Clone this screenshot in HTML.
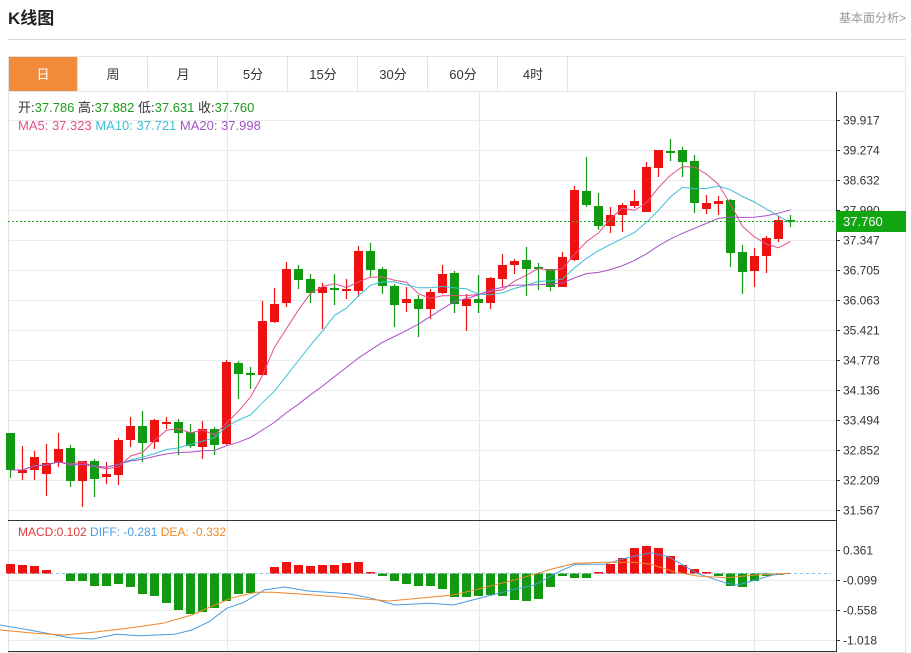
<!DOCTYPE html>
<html><head><meta charset="utf-8"><style>
html,body{margin:0;padding:0;background:#fff;width:911px;height:653px;overflow:hidden;font-family:"Liberation Sans","Noto Sans CJK SC",sans-serif;}
</style></head><body>
<svg id="s" width="911" height="653" xmlns="http://www.w3.org/2000/svg" style="position:absolute;left:0;top:0;font-family:'Liberation Sans','Noto Sans CJK SC',sans-serif">
<text x="8" y="24" font-size="17" font-weight="bold" fill="#222">K线图</text>
<text x="906" y="22" font-size="12" fill="#999" text-anchor="end">基本面分析&gt;</text>
<line x1="8" y1="39.5" x2="906" y2="39.5" stroke="#d8d8d8"/>
<rect x="8.5" y="56.5" width="897" height="596" fill="none" stroke="#e3e3e3"/>
<rect x="9" y="57" width="68" height="34" fill="#f28b3c"/>
<line x1="8" y1="91.5" x2="906" y2="91.5" stroke="#e3e3e3"/>
<g id="tabs" font-size="13" text-anchor="middle" fill="#333"></g>
<g id="grid"></g>
<g id="main"></g>
</svg>
<script>
const S=document.getElementById('s');const NS='http://www.w3.org/2000/svg';
function el(t,a,p,txt){const e=document.createElementNS(NS,t);for(const k in a)e.setAttribute(k,a[k]);if(txt!==undefined)e.textContent=txt;(p||S).appendChild(e);return e;}
const tabs=['日','周','月','5分','15分','30分','60分','4时'];
const tg=document.getElementById('tabs');
tabs.forEach((t,i)=>{const x=8+70*i;el('text',{x:x+35,y:79,fill:i==0?'#fff':'#333'},tg,t);el('line',{x1:x+69.5,y1:56,x2:x+69.5,y2:91,stroke:'#e3e3e3'},tg);});
const g=document.getElementById('grid');
// horizontal grid main
const labs=['39.917','39.274','38.632','37.990','37.347','36.705','36.063','35.421','34.778','34.136','33.494','32.852','32.209','31.567'];
labs.forEach((l,i)=>{const y=120+30*i+0.5;el('line',{x1:8,y1:y,x2:836,y2:y,stroke:'#ebebeb'},g);el('line',{x1:836,y1:y,x2:840,y2:y,stroke:'#333'},g);el('text',{x:843,y:y+4,'font-size':12,fill:'#333'},g,l);});
[227.5,479.5,754.5].forEach(x=>el('line',{x1:x,y1:92,x2:x,y2:652,stroke:'#e6e6e6'},g));
const ml=['0.361','-0.099','-0.558','-1.018'];
ml.forEach((l,i)=>{const y=550+30*i+0.5;el('line',{x1:8,y1:y,x2:836,y2:y,stroke:'#ebebeb'},g);el('line',{x1:836,y1:y,x2:840,y2:y,stroke:'#333'},g);el('text',{x:843,y:y+4,'font-size':12,fill:'#333'},g,l);});
el('line',{x1:836.5,y1:92,x2:836.5,y2:652,stroke:'#333'},g);
el('line',{x1:8,y1:520.5,x2:836,y2:520.5,stroke:'#333'},g);
el('line',{x1:8,y1:651.5,x2:836,y2:651.5,stroke:'#333'},g);
const m=document.getElementById('main');
// candles: [openY, closeY, highY, lowY]
const C=[[433,470,433,478],[473,470,446,480],[470,457,451,480],[474,463,444,496],[463,449,433,467],[448,481,445,487],[481,461,461,507],[461,479,459,497],[477,474,462,484],[475,440,438,485],
[440,426,417,447],[426,443,411,462],[442,420,419,449],[424,422,417,429],[422,433,419,455],[432,446,424,448],[447,429,421,459],[429,445,427,455],[444,362,360,445],[363,374,361,399],
[373,375,367,389],[375,321,301,376],[322,304,288,323],[303,269,262,307],[269,280,265,289],[279,293,274,303],[293,287,283,329],[288,289,274,305],[291,289,279,299],[291,251,246,297],
[251,270,243,277],[269,286,267,294],[286,305,284,327],[303,299,287,312],[299,309,295,337],[309,292,289,319],[293,274,265,294],[273,304,271,313],[306,299,294,331],[299,303,275,313],
[303,278,277,309],[279,265,254,287],[265,261,259,274],[260,269,247,296],[267,269,263,290],[269,287,269,291],[287,257,252,287],[260,190,186,261],[191,205,157,207],[206,226,193,230],
[226,215,207,233],[215,205,203,232],[206,201,190,208],[212,167,162,212],[168,150,150,177],[151,153,139,161],[150,162,147,177],[161,203,155,213],[209,203,195,214],[204,201,196,215],
[200,253,199,267],[252,272,245,294],[271,256,248,287],[256,238,236,273],[239,220,216,242],[220,221,215,227]];
const X=i=>10.5+12*i;
C.forEach((c,i)=>{const up=c[1]<c[0]||(c[1]==c[0]);const col=(c[1]<c[0])?'#ee1111':'#119911';const x=X(i);
el('line',{x1:x,y1:c[2],x2:x,y2:c[3],stroke:col,'stroke-width':1.2},m);
const t=Math.min(c[0],c[1]),h=Math.max(2,Math.abs(c[0]-c[1]));el('rect',{x:x-4.5,y:t,width:9,height:h,fill:col},m);});
function ma(n){const p=[];for(let i=0;i<C.length;i++){let s=0,k=0;for(let j=Math.max(0,i-n+1);j<=i;j++){s+=C[j][1];k++;}p.push(X(i).toFixed(1)+','+(s/k).toFixed(1));}return p.join(' ');}
el('polyline',{points:ma(5),fill:'none',stroke:'#e2508c','stroke-width':1},m);
el('polyline',{points:ma(10),fill:'none',stroke:'#3cbfd4','stroke-width':1},m);
el('polyline',{points:ma(20),fill:'none',stroke:'#a552c4','stroke-width':1},m);
el('line',{x1:8,y1:221.5,x2:836,y2:221.5,stroke:'#22aa22','stroke-dasharray':'2,2'},m);
el('rect',{x:836,y:211,width:70,height:21,fill:'#11a511'},m);
el('text',{x:843,y:226,'font-size':13,fill:'#fff'},m,'37.760');
// legend
const L=el('text',{x:18,y:112,'font-size':13},m);
[['开:','#333'],['37.786  ','#1a9a1a'],['高:','#333'],['37.882  ','#1a9a1a'],['低:','#333'],['37.631  ','#1a9a1a'],['收:','#333'],['37.760','#1a9a1a']].forEach(a=>el('tspan',{fill:a[1],'xml:space':'preserve'},L,a[0]));
L.setAttribute('xml:space','preserve');
const L2=el('text',{x:18,y:130,'font-size':13},m);L2.setAttribute('xml:space','preserve');
[['MA5: 37.323   ','#e2508c'],['MA10: 37.721   ','#3cbfd4'],['MA20: 37.998','#a552c4']].forEach(a=>el('tspan',{fill:a[1]},L2,a[0]));
const L3=el('text',{x:18,y:536,'font-size':12},m);L3.setAttribute('xml:space','preserve');
[['MACD:0.102   ','#e03a3a'],['DIFF: -0.281   ','#4a9be0'],['DEA: -0.332','#f0862a']].forEach(a=>el('tspan',{fill:a[1]},L3,a[0]));
// MACD
const Z=573.5;
el('line',{x1:8,y1:Z,x2:831,y2:Z,stroke:'#8ac0e8','stroke-dasharray':'3,3'},m);
const B=[564,565,566,570,573,581,581,586,586,584,587,594,596,603,610,614,612,608,601,594,593,574,567,562,565,566,565,565,563,562,572,576,581,584,586,586,589,597,597,596,595,596,600,601,599,587,576,578,578,572,564,558,548,546,548,556,565,569,572,576,586,587,581,576,575,574];
B.forEach((y,i)=>{const x=X(i);if(Math.abs(y-Z)<1)return;const up=y<Z;el('rect',{x:x-4.5,y:Math.min(y,Z),width:9,height:Math.abs(y-Z),fill:up?'#ee1111':'#119911'},m);});
function cv(a){return a.map(p=>(p[0]/1.721).toFixed(1)+','+(515+p[1]/3).toFixed(1)).join(' ');}
const D=[[0,330],[60,348],[120,368],[160,372],[200,358],[240,362],[300,358],[330,345],[360,320],[390,280],[420,262],[455,225],[490,216],[530,228],[600,236],[640,250],[680,270],[740,265],[780,270],[820,252],[880,225],[920,210],[960,172],[990,148],[1040,148],[1080,128],[1120,113],[1150,125],[1200,175],[1250,205],[1270,210],[1300,195],[1330,180],[1360,175]];
const E=[[0,345],[60,355],[110,360],[160,352],[220,340],[280,325],[330,300],[370,270],[400,248],[440,232],[470,232],[540,240],[600,248],[670,258],[720,250],[780,240],[840,215],[900,188],[950,162],[990,145],[1040,142],[1090,142],[1120,148],[1160,170],[1200,183],[1250,188],[1300,180],[1360,175]];
el('polyline',{points:cv(D),fill:'none',stroke:'#4a9be0','stroke-width':1},m);
el('polyline',{points:cv(E),fill:'none',stroke:'#f0862a','stroke-width':1},m);
</script>
</body></html>
